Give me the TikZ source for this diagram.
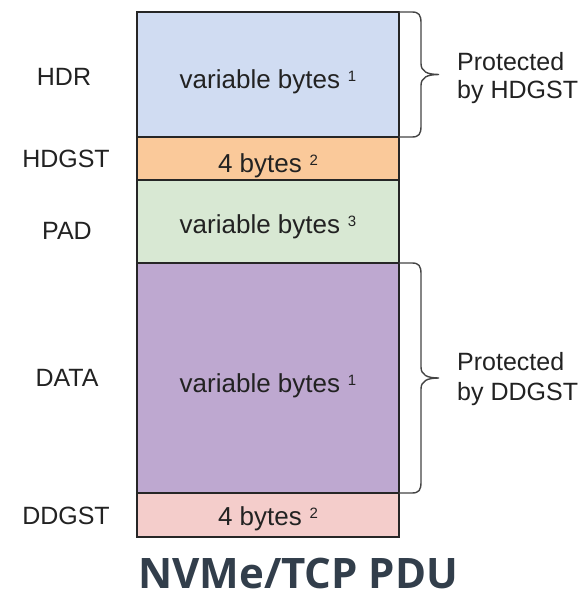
\documentclass[tikz,border=0pt]{standalone}
\usepackage{fontspec}
\setmainfont{Liberation Sans}
\newfontfamily\titlefont{Open Sans}
\usetikzlibrary{calc}

\definecolor{hdrblue}{HTML}{D0DCF2}
\definecolor{hdgstorange}{HTML}{FAC99A}
\definecolor{padgreen}{HTML}{D8E8D3}
\definecolor{datapurple}{HTML}{BEA8D0}
\definecolor{ddgstpink}{HTML}{F4CDCB}
\definecolor{boxline}{HTML}{262626}
\definecolor{labeltext}{HTML}{222222}
\definecolor{bracecol}{HTML}{444444}
\definecolor{titlecol}{HTML}{323E4B}

% small raised footnote digit after a field size
\newcommand\fnmark[1]{\hspace{0.3em}\raisebox{7pt}{\fontsize{15}{15}\selectfont #1}}

% curly brace along the right side of a run of fields
\newcommand\pdubrace[2]{%
  \draw[bracestyle] let \p1=(#1), \p2=(#2), \p3=($(#1)!0.5!(#2)$) in
    (#1) -- (\x1+13pt,\y1)
    .. controls (\x1+20pt,\y1) and (\x1+22pt,\y1-3pt) .. (\x1+22pt,\y1-11pt)
    -- (\x1+22pt,\y3+11pt)
    .. controls (\x1+22pt,\y3+3pt) and (\x1+28pt,\y3) .. (\x1+40pt,\y3)
    .. controls (\x1+28pt,\y3) and (\x1+22pt,\y3-3pt) .. (\x1+22pt,\y3-11pt)
    -- (\x1+22pt,\y2+11pt)
    .. controls (\x1+22pt,\y2+3pt) and (\x1+20pt,\y2) .. (\x1+13pt,\y2)
    -- (#2);
}

\begin{document}
\begin{tikzpicture}[x=1pt,y=-1pt,
  field/.style={draw=boxline, line width=1.4pt, minimum width=262pt,
    inner sep=0pt, outer sep=0pt, anchor=north west},
  fieldtext/.style={text=labeltext, font=\fontsize{26}{30}\selectfont,
    anchor=base, inner sep=0pt},
  fieldname/.style={text=labeltext, font=\fontsize{25}{30}\selectfont,
    anchor=base, inner sep=0pt},
  note/.style={text=labeltext, font=\fontsize{25}{30}\selectfont,
    anchor=base west, inner sep=0pt},
  bracestyle/.style={draw=bracecol, line width=1.4pt},
]
\useasboundingbox (0,0) rectangle (588,597);

% PDU fields, top to bottom
\node[field, fill=hdrblue,     minimum height=125pt] (hdr)   at (137,12)  {};
\node[field, fill=hdgstorange, minimum height=43pt]  (hdgst) at (137,137) {};
\node[field, fill=padgreen,    minimum height=83pt]  (pad)   at (137,180) {};
\node[field, fill=datapurple,  minimum height=230pt] (data)  at (137,263) {};
\node[field, fill=ddgstpink,   minimum height=44pt]  (ddgst) at (137,493) {};

% sizes inside the fields
\node[fieldtext] (hdrsize)   at (268,88)  {variable bytes\fnmark{1}};
\node[fieldtext] (hdgstsize) at (268,172) {4 bytes\fnmark{2}};
\node[fieldtext] (padsize)   at (268,233) {variable bytes\fnmark{3}};
\node[fieldtext] (datasize)  at (268,392) {variable bytes\fnmark{1}};
\node[fieldtext] (ddgstsize) at (268,525) {4 bytes\fnmark{2}};

% field names on the left
\node[fieldname] (hdrname)   at (64,85)  {HDR};
\node[fieldname] (hdgstname) at (66,167) {HDGST};
\node[fieldname] (padname)   at (67,239) {PAD};
\node[fieldname] (dataname)  at (67,386) {DATA};
\node[fieldname] (ddgstname) at (66,524) {DDGST};

% digest coverage
\pdubrace{hdr.north east}{hdr.south east}
\pdubrace{data.north east}{data.south east}
\node[note] (hdgstnote1) at (457,70)  {Protected};
\node[note] (hdgstnote2) at (457,98)  {by HDGST};
\node[note] (ddgstnote1) at (457,370) {Protected};
\node[note] (ddgstnote2) at (457,400) {by DDGST};

% caption
\node[text=titlecol, font=\titlefont\bfseries\fontsize{42}{46}\selectfont,
  anchor=base west, inner sep=0pt] (caption) at (138,588) {NVMe/TCP PDU};
\end{tikzpicture}
\end{document}
